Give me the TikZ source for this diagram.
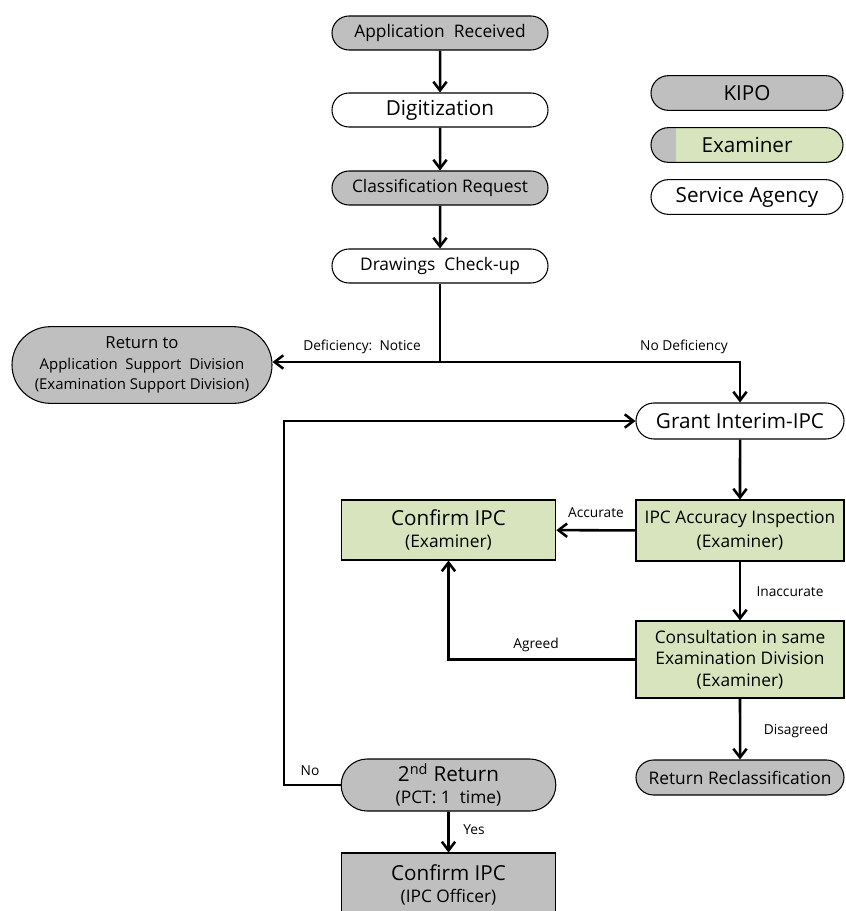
\documentclass[tikz,border=0pt]{standalone}
\usepackage{fontspec}
\setmainfont{Open Sans}
\usetikzlibrary{shapes.misc,arrows.meta}
\definecolor{kipogray}{RGB}{191,191,191}
\definecolor{exgreen}{RGB}{215,228,189}
\newcommand{\txtL}{\fontsize{15.5}{18}\selectfont}
\newcommand{\txtM}{\fontsize{13}{16}\selectfont}
\newcommand{\txtR}{\fontsize{11.2}{15.4}\selectfont}
\newcommand{\txtS}{\fontsize{10.3}{12}\selectfont}
\tikzset{
  flow/.style={line width=1.9pt,-{Straight Barb[length=6.5pt,width=10pt]}},
  trunk/.style={line width=1.9pt},
  stadium/.style={rounded rectangle,draw,line width=0.8pt,inner sep=0pt,align=center},
  kipo/.style={stadium,fill=kipogray},
  agency/.style={stadium,fill=white},
  exlegend/.style={stadium,fill=exgreen,path picture={
      \fill[kipogray] (path picture bounding box.south west) rectangle ([xshift=18.75pt]path picture bounding box.north west);}},
  exbox/.style={rectangle,draw,line width=0.8pt,fill=exgreen,inner sep=0pt,align=center},
  offbox/.style={rectangle,draw,line width=0.8pt,fill=kipogray,inner sep=0pt,align=center},
  lbl/.style={inner sep=1pt,font=\txtS}
}
\begin{document}
\begin{tikzpicture}[x=0.75pt,y=0.75pt,yscale=-1,xscale=1]
\useasboundingbox (0,0) rectangle (846,911);

% main column
\node[kipo,minimum width=162pt,minimum height=25.5pt,font=\txtM] (ar) at (440,33) {Application~~Received};
\node[agency,minimum width=162pt,minimum height=25.5pt,font=\txtL] (dg) at (440,110) {Digitization};
\node[kipo,minimum width=162pt,minimum height=25.5pt,font=\txtM] (cr) at (440,188) {Classification Request};
\node[agency,minimum width=162pt,minimum height=25.5pt,font=\txtM] (dc) at (440,266) {Drawings~~Check-up};

% legend
\node[kipo,minimum width=144pt,minimum height=26pt,font=\txtL] (lgkipo) at (747,93) {KIPO};
\node[exlegend,minimum width=144pt,minimum height=26pt,font=\txtL] (lgex) at (747,145) {Examiner};
\node[agency,minimum width=144pt,minimum height=26pt,font=\txtL] (lgsa) at (747,197) {Service Agency};

% deficiency branch
\node[kipo,minimum width=195pt,minimum height=57.5pt,font=\txtR] (rt) at (142,365)
  {{\fontsize{12.5}{15.4}\selectfont Return to}\\Application~~Support~~Division\\(Examination Support Division)};
\node[agency,minimum width=156pt,minimum height=27pt,font=\txtL] (gi) at (740,421) {Grant Interim-IPC};

% examiner boxes
\node[exbox,minimum width=156pt,minimum height=45.75pt,font=\txtM] (ia) at (740,530.5)
  {IPC Accuracy Inspection\\[1.5pt](Examiner)};
\node[exbox,minimum width=161pt,minimum height=45pt] (ce) at (448.5,530)
  {{\txtL Confirm IPC}\\[5pt]{\txtM (Examiner)}};
\node[exbox,minimum width=156pt,minimum height=57.75pt,font=\txtM] (cs) at (740,659.5)
  {Consultation in same\\Examination Division\\(Examiner)};
\node[kipo,minimum width=156pt,minimum height=26.25pt,font=\txtM] (rr) at (740,777.5) {Return Reclassification};

% second return
\node[kipo,minimum width=161pt,minimum height=39pt] (sr) at (448.5,785)
  {{\txtL 2\textsuperscript{nd} Return}\\[4.5pt]{\txtM (PCT:~1~~time)}};
\node[offbox,minimum width=161pt,minimum height=48pt] (co) at (448.5,885)
  {{\txtL Confirm IPC}\\[5pt]{\txtM (IPC Officer)}};

% connectors
\coordinate (split) at (440,362);
\coordinate (nobend) at (284,600);
\draw[flow] (ar) -- (dg);
\draw[flow] (dg) -- (cr);
\draw[flow] (cr) -- (dc);
\draw[trunk] (dc.south) -- (split);
\draw[flow] (split) -- (rt.east |- split);
\draw[flow] (split) -| (gi.north);
\draw[flow] (gi) -- (ia);
\draw[flow] (ia) -- (ce);
\draw[flow] (ia) -- (cs);
\draw[flow] (cs.west) -| (ce.south);
\draw[flow] (cs) -- (rr);
\draw[flow] (sr.west) -| (nobend) |- (gi.west);
\draw[flow] (sr) -- (co);

% Text Node
\node[lbl] (lnotice) at (362,347) {Deficiency:~~Notice};
\node[lbl] (lnodef) at (684,347) {No Deficiency};
\node[lbl] (lacc) at (596,513) {Accurate};
\node[lbl] (linacc) at (790,592) {Inaccurate};
\node[lbl] (lagree) at (536,645) {Agreed};
\node[lbl] (ldis) at (796,731) {Disagreed};
\node[lbl] (lno) at (310,771) {No};
\node[lbl] (lyes) at (474,830) {Yes};

\end{tikzpicture}
\end{document}
